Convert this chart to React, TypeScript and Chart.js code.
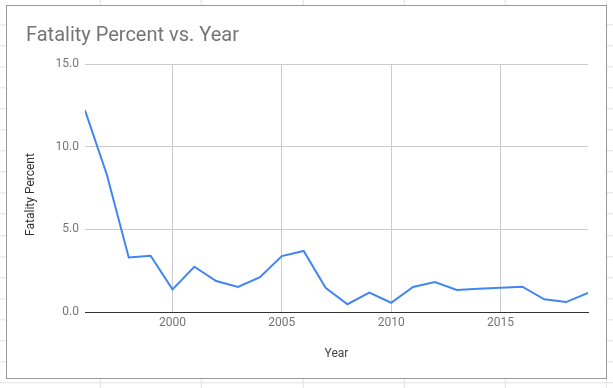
import React, { useEffect, useRef } from "react";
import { Chart, registerables } from "chart.js";

Chart.register(...registerables);

const years = [1996, 1997, 1998, 1999, 2000, 2001, 2002, 2003, 2004, 2005, 2006, 2007, 2008, 2009, 2010, 2011, 2012, 2013, 2014, 2015, 2016, 2017, 2018, 2019];
const fatalityPercent = [12.2, 8.3, 3.3, 3.4, 1.37, 2.74, 1.87, 1.51, 2.11, 3.38, 3.69, 1.47, 0.47, 1.17, 0.56, 1.51, 1.81, 1.33, 1.4, 1.47, 1.53, 0.77, 0.6, 1.15];
const xTicks = [2000, 2005, 2010, 2015];
const yTicks = [0, 5, 10, 15];
const titleText = "Fatality Percent vs. Year";
const xTitle = "Year";
const yTitle = "Fatality Percent";

const FONT = "Roboto";

const yTitlePlugin = {
  id: "yTitleOffset",
  afterDraw(chart: any) {
    const ctx = chart.ctx;
    const area = chart.chartArea;
    ctx.save();
    ctx.translate(23.5, (area.top + area.bottom) / 2 + 6.5);
    ctx.rotate(-Math.PI / 2);
    ctx.font = `12px ${FONT}`;
    ctx.fillStyle = "#333333";
    ctx.textAlign = "center";
    ctx.textBaseline = "middle";
    ctx.fillText(yTitle, 0, 0);
    ctx.restore();
  },
};

export default function App() {
  const ref = useRef<HTMLCanvasElement | null>(null);

  useEffect(() => {
    if (!ref.current) return;
    const chart = new Chart(ref.current, {
      type: "line",
      data: {
        datasets: [
          {
            label: yTitle,
            data: years.map((y, i) => ({ x: y, y: fatalityPercent[i] })),
            borderColor: "#4285f4",
            backgroundColor: "#4285f4",
            borderWidth: 2,
            pointRadius: 0,
            tension: 0,
            fill: false,
          },
        ],
      },
      plugins: [yTitlePlugin],
      options: {
        animation: false,
        responsive: false,
        devicePixelRatio: 1,
        layout: { padding: { left: 19, right: 18, top: 10, bottom: 0 } },
        plugins: {
          legend: { display: false },
          tooltip: { enabled: false },
          title: {
            display: true,
            text: titleText,
            align: "start",
            color: "#757575",
            font: { family: FONT, size: 20, weight: "normal" },
            padding: { top: 8, bottom: 16 },
          },
        },
        scales: {
          x: {
            type: "linear",
            min: years[0],
            max: years[years.length - 1],
            afterBuildTicks: (scale: any) => {
              scale.ticks = xTicks.map((v) => ({ value: v }));
            },
            afterFit: (scale: any) => {
              scale.height = 66;
            },
            ticks: {
              color: "#757575",
              font: { family: FONT, size: 12 },
              padding: 4,
              maxRotation: 0,
              autoSkip: false,
              callback: (v: any) => String(v),
            },
            grid: { color: "#cccccc", drawTicks: false, lineWidth: 1 },
            border: { display: true, color: "#333333", width: 1 },
            title: {
              display: true,
              text: xTitle,
              color: "#444444",
              font: { family: FONT, size: 12 },
              padding: { top: 0, bottom: 17 },
            },
          },
          y: {
            min: 0,
            max: 15,
            afterBuildTicks: (scale: any) => {
              scale.ticks = yTicks.map((v) => ({ value: v }));
            },
            afterFit: (scale: any) => {
              scale.width = 59;
            },
            ticks: {
              color: "#757575",
              font: { family: FONT, size: 12 },
              padding: 6,
              callback: (v: any) => Number(v).toFixed(1),
            },
            grid: {
              color: (ctx: any) => (ctx.tick && ctx.tick.value === 0 ? "#333333" : "#cccccc"),
              drawTicks: false,
              lineWidth: 1,
            },
            border: { display: false },
            title: { display: false, text: yTitle },
          },
        },
      },
    });
    return () => chart.destroy();
  }, []);

  const gridBg =
    "repeating-linear-gradient(to bottom, transparent 0px, transparent 20.05px, #e2e2e2 20.05px, #e2e2e2 21.05px)," +
    "repeating-linear-gradient(to right, transparent 0px, transparent 100.2px, #e2e2e2 100.2px, #e2e2e2 101.2px)";

  return (
    <div
      style={{
        position: "fixed",
        left: 0,
        top: 0,
        width: 613,
        height: 388,
        background: "#ffffff",
        overflow: "hidden",
      }}
    >
      <div
        style={{
          position: "absolute",
          left: 0,
          top: 0,
          width: 613,
          height: 388,
          backgroundImage: gridBg,
          backgroundPosition: "-0.2px 4.3px, -0.2px 0px",
        }}
      />
      <div
        style={{
          position: "absolute",
          left: 6,
          top: 5,
          width: 599,
          height: 372,
          border: "1px solid #9a9a9a",
          background: "#ffffff",
        }}
      >
        <canvas ref={ref} width={599} height={372} style={{ display: "block", width: 599, height: 372 }} />
      </div>
    </div>
  );
}
